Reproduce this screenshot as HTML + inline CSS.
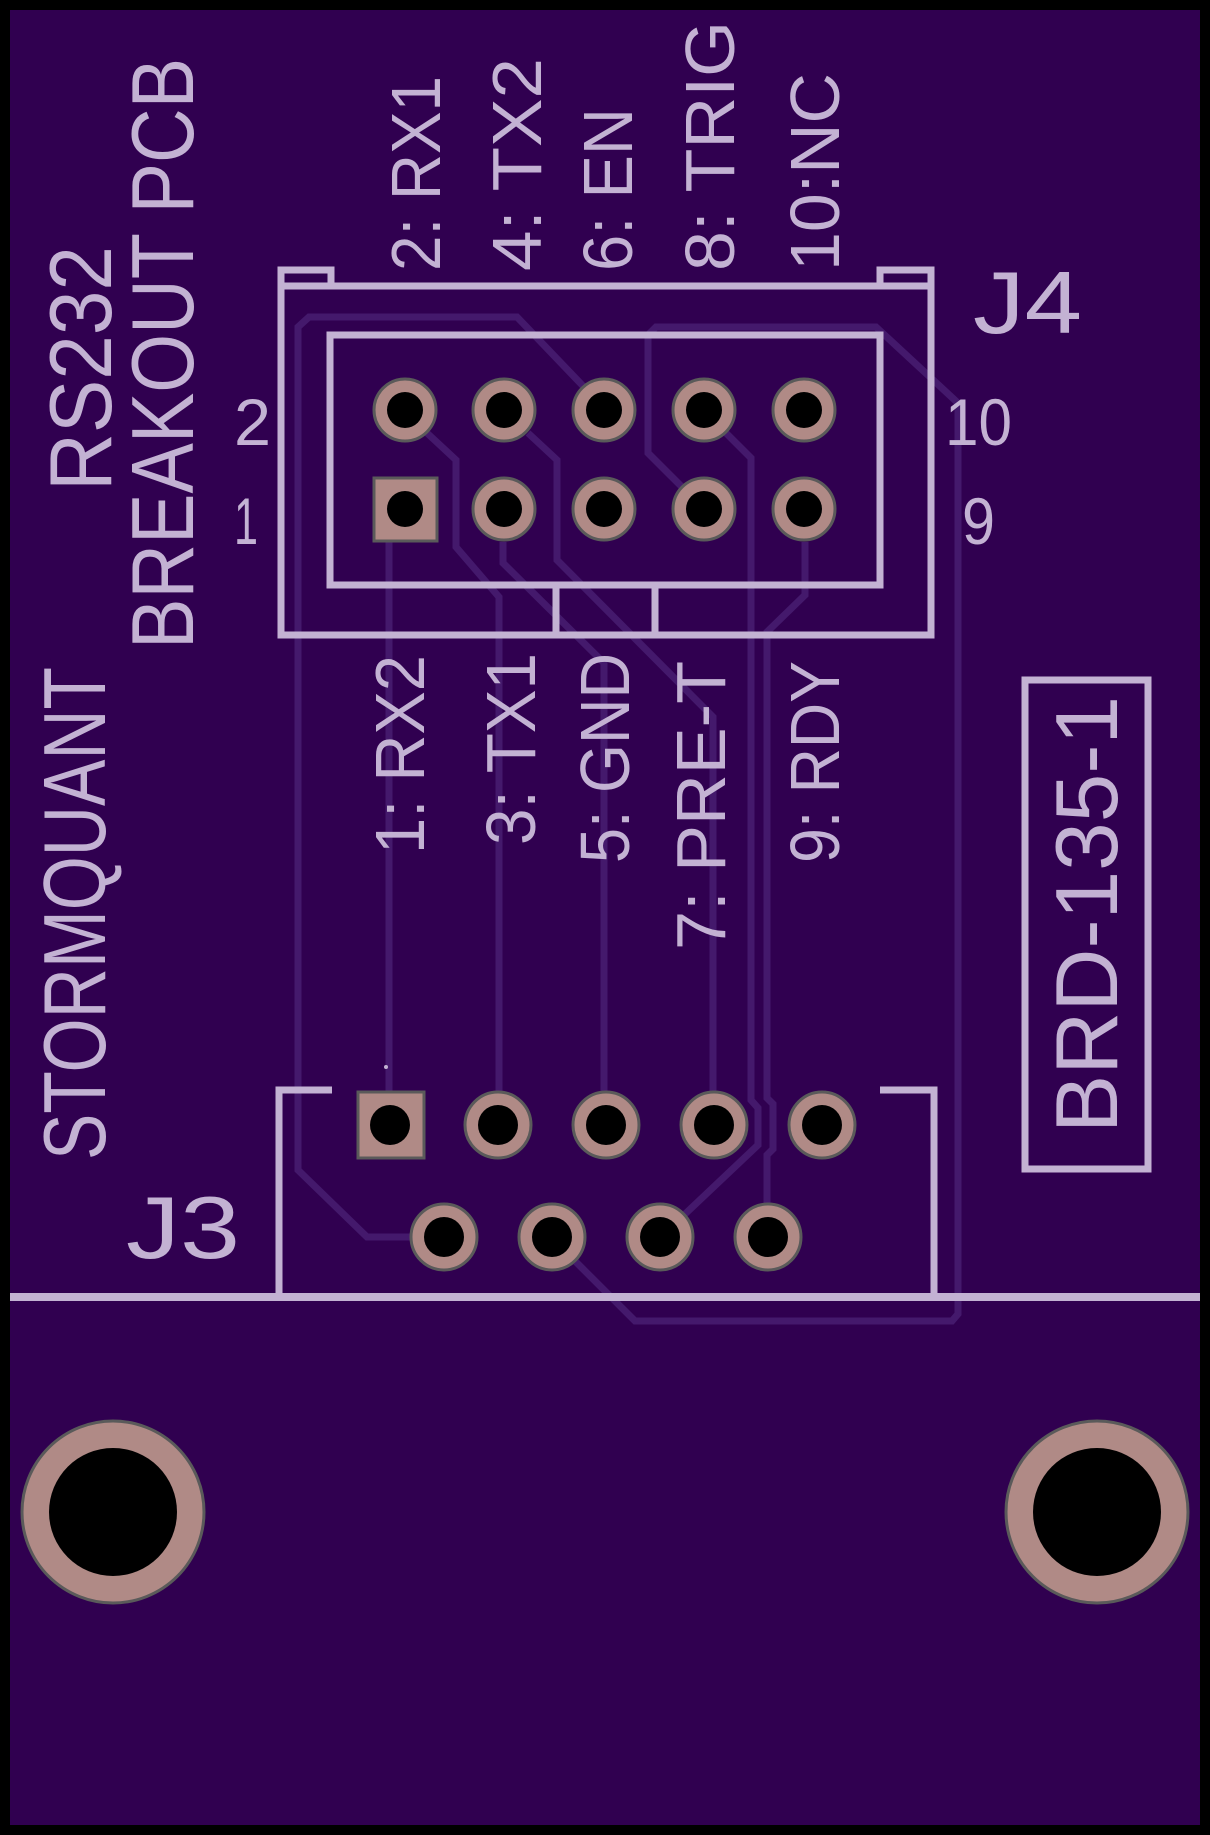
<!DOCTYPE html>
<html><head><meta charset="utf-8"><style>
html,body{margin:0;padding:0;background:#000;}
svg{display:block;}
text{font-family:"Liberation Sans",sans-serif;fill:#c3b2d3;}
</style></head><body>
<svg width="1210" height="1835" viewBox="0 0 1210 1835" xmlns="http://www.w3.org/2000/svg">
<rect x="0" y="0" width="1210" height="1835" fill="#000"/>
<rect x="10" y="10" width="1190" height="1815" fill="#300050"/>
<!-- traces -->
<g fill="none" stroke="#44196c" stroke-width="7" stroke-linejoin="miter">
<polyline points="389,542 389,1091"/>
<polyline points="427,433 456,460 456,547 499,597 499,1125"/>
<polyline points="503,542 503,563 604,663 604,1125"/>
<polyline points="528,433 557,460 557,560 713,717 713,1125"/>
<polyline points="726,433 751,458 751,1100 758,1108 758,1145 684,1215"/>
<polyline points="682,487 648,453 648,335 656,327 876,327 958,403 958,1314 952,1321 635,1321 575,1261"/>
<polyline points="805,542 805,595 767,632 767,1098 773,1104 773,1149 767,1155 767,1237"/>
<polyline points="584,387 517,317 309,317 298,327 298,1170 367,1237 444,1237"/>
</g>
<!-- silkscreen -->
<g fill="none" stroke="#c3b2d3" stroke-width="7">
<rect x="281" y="286" width="650" height="349"/>
<rect x="330" y="335" width="550" height="250"/>
<line x1="556" y1="585" x2="556" y2="635"/>
<line x1="655" y1="585" x2="655" y2="635"/>
<polyline points="281,286 281,270 331,270 331,286"/>
<polyline points="880,286 880,270 931,270 931,286"/>
<polyline points="332,1090 279,1090 279,1297"/>
<polyline points="880,1090 934,1090 934,1297"/>
<line x1="10" y1="1297" x2="1200" y2="1297" stroke-width="8"/>
<rect x="1025" y="680" width="123" height="489"/>
</g>
<circle cx="386" cy="1067" r="2" fill="#c3b2d3"/>
<!-- J4 pads -->
<g stroke="#5a5a5a" stroke-width="3" fill="#b08a86">
<rect x="374" y="478" width="63" height="63"/>
<circle cx="405" cy="410" r="31"/><circle cx="504" cy="410" r="31"/><circle cx="604" cy="410" r="31"/><circle cx="704" cy="410" r="31"/><circle cx="804" cy="410" r="31"/>
<circle cx="504" cy="509" r="31"/><circle cx="604" cy="509" r="31"/><circle cx="704" cy="509" r="31"/><circle cx="804" cy="509" r="31"/>
<rect x="358" y="1092" width="66" height="66"/>
<circle cx="498" cy="1125" r="33"/><circle cx="606" cy="1125" r="33"/><circle cx="714" cy="1125" r="33"/><circle cx="822" cy="1125" r="33"/>
<circle cx="444" cy="1237" r="33"/><circle cx="552" cy="1237" r="33"/><circle cx="660" cy="1237" r="33"/><circle cx="768" cy="1237" r="33"/>
<circle cx="113" cy="1512" r="91"/><circle cx="1097" cy="1512" r="91"/>
</g>
<g fill="#000">
<circle cx="405" cy="410" r="18"/><circle cx="504" cy="410" r="18"/><circle cx="604" cy="410" r="18"/><circle cx="704" cy="410" r="18"/><circle cx="804" cy="410" r="18"/>
<circle cx="405" cy="509" r="18"/><circle cx="504" cy="509" r="18"/><circle cx="604" cy="509" r="18"/><circle cx="704" cy="509" r="18"/><circle cx="804" cy="509" r="18"/>
<circle cx="390" cy="1125" r="20"/><circle cx="498" cy="1125" r="20"/><circle cx="606" cy="1125" r="20"/><circle cx="714" cy="1125" r="20"/><circle cx="822" cy="1125" r="20"/>
<circle cx="444" cy="1237" r="20"/><circle cx="552" cy="1237" r="20"/><circle cx="660" cy="1237" r="20"/><circle cx="768" cy="1237" r="20"/>
<circle cx="113" cy="1512" r="64"/><circle cx="1097" cy="1512" r="64"/>
</g>
<!-- rotated labels -->
<g font-size="70">
<text transform="translate(440,271) rotate(-90)" textLength="195" lengthAdjust="spacingAndGlyphs">2: RX1</text>
<text transform="translate(541,271) rotate(-90)" textLength="213" lengthAdjust="spacingAndGlyphs">4: TX2</text>
<text transform="translate(632,271) rotate(-90)" textLength="163" lengthAdjust="spacingAndGlyphs">6: EN</text>
<text transform="translate(734,271) rotate(-90)" textLength="250" lengthAdjust="spacingAndGlyphs">8: TRIG</text>
<text transform="translate(839,271) rotate(-90)" textLength="198" lengthAdjust="spacingAndGlyphs">10:NC</text>
<text transform="translate(424,854) rotate(-90)" textLength="199" lengthAdjust="spacingAndGlyphs">1: RX2</text>
<text transform="translate(535,845) rotate(-90)" textLength="192" lengthAdjust="spacingAndGlyphs">3: TX1</text>
<text transform="translate(629,863) rotate(-90)" textLength="210" lengthAdjust="spacingAndGlyphs">5: GND</text>
<text transform="translate(725,950) rotate(-90)" textLength="289" lengthAdjust="spacingAndGlyphs">7: PRE-T</text>
<text transform="translate(839,863) rotate(-90)" textLength="202" lengthAdjust="spacingAndGlyphs">9: RDY</text>
</g>
<g font-size="88">
<text transform="translate(111,491) rotate(-90)" textLength="245" lengthAdjust="spacingAndGlyphs">RS232</text>
<text transform="translate(193,649) rotate(-90)" textLength="591" lengthAdjust="spacingAndGlyphs">BREAKOUT PCB</text>
<text transform="translate(105,1160) rotate(-90)" textLength="493" lengthAdjust="spacingAndGlyphs">STORMQUANT</text>
<text transform="translate(1117,1133) rotate(-90)" textLength="437" lengthAdjust="spacingAndGlyphs">BRD-135-1</text>
<text x="973" y="333" textLength="109" lengthAdjust="spacingAndGlyphs">J4</text>
<text x="126" y="1258" textLength="114" lengthAdjust="spacingAndGlyphs">J3</text>
</g>
<g font-size="66">
<text x="234" y="445" textLength="37" lengthAdjust="spacingAndGlyphs">2</text>
<text x="234" y="544" textLength="24" lengthAdjust="spacingAndGlyphs">1</text>
<text x="945" y="445" textLength="67" lengthAdjust="spacingAndGlyphs">10</text>
<text x="962" y="544" textLength="33" lengthAdjust="spacingAndGlyphs">9</text>
</g>
</svg>
</body></html>
